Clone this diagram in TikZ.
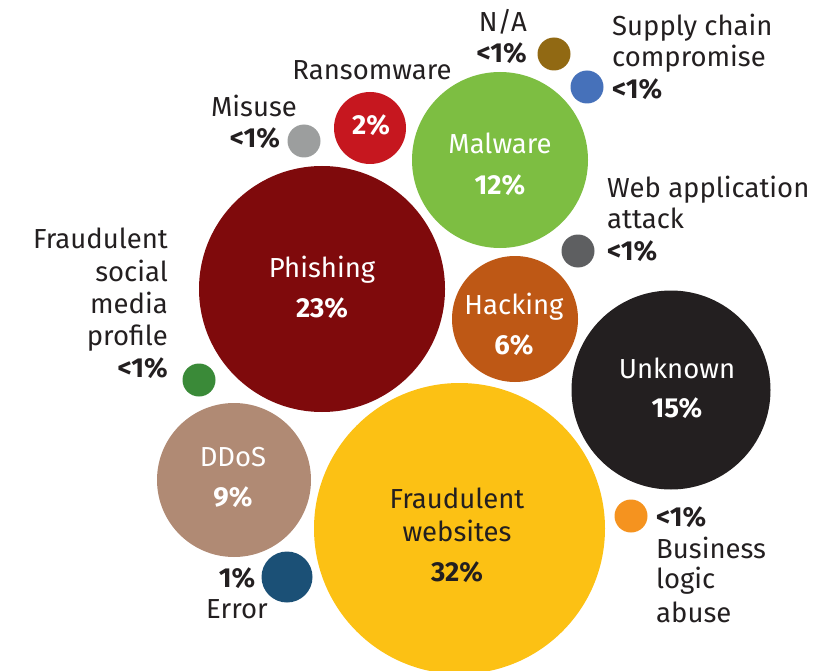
\documentclass[tikz,border=0pt]{standalone}
\usepackage{fontspec}
\setmainfont{Fira Sans}
\definecolor{ink}{HTML}{231F20}
\definecolor{cphish}{HTML}{7F0A0C}
\definecolor{cweb}{HTML}{FCC114}
\definecolor{cunknown}{HTML}{231F20}
\definecolor{cmalware}{HTML}{7DBE42}
\definecolor{chack}{HTML}{BE5815}
\definecolor{cddos}{HTML}{B08A74}
\definecolor{cransom}{HTML}{C6171F}
\definecolor{cmisuse}{HTML}{9C9E9E}
\definecolor{cna}{HTML}{916913}
\definecolor{csupply}{HTML}{4671BA}
\definecolor{cwebapp}{HTML}{5E5F61}
\definecolor{csocial}{HTML}{3A8A38}
\definecolor{cerror}{HTML}{1B5076}
\definecolor{clogic}{HTML}{F5931F}

\begin{document}
\begin{tikzpicture}[x=1pt,y=-1pt,
  bubble/.style={circle,inner sep=0pt,draw=none},
  txt/.style={font=\fontsize{27.5}{32}\selectfont,text=ink,inner sep=0pt},
  pct/.style={font=\fontsize{27.5}{32}\selectfont\bfseries,text=ink,inner sep=0pt}]
  \useasboundingbox (0,0) rectangle (824,671);

  % bubbles
  \node[bubble,fill=cphish,minimum size=246pt]   (phishing) at (322,289) {};
  \node[bubble,fill=cweb,minimum size=291pt]     (websites) at (459.5,528.5) {};
  \node[bubble,fill=cunknown,minimum size=199pt] (unknown)  at (671,390) {};
  \node[bubble,fill=cmalware,minimum size=176pt] (malware)  at (500,160) {};
  \node[bubble,fill=chack,minimum size=126pt]    (hacking)  at (515,319) {};
  \node[bubble,fill=cddos,minimum size=154pt]    (ddos)     at (234,480) {};
  \node[bubble,fill=cransom,minimum size=72pt]   (ransom)   at (370,128) {};
  \node[bubble,fill=cmisuse,minimum size=33pt]   (misuse)   at (304,141) {};
  \node[bubble,fill=cna,minimum size=33pt]       (na)       at (554,54) {};
  \node[bubble,fill=csupply,minimum size=33pt]   (supply)   at (587,87) {};
  \node[bubble,fill=cwebapp,minimum size=33pt]   (webapp)   at (578,251) {};
  \node[bubble,fill=csocial,minimum size=33pt]   (social)   at (199,380) {};
  \node[bubble,fill=cerror,minimum size=51pt]    (error)    at (287,577) {};
  \node[bubble,fill=clogic,minimum size=33pt]    (logic)    at (631,516) {};

  % texts inside
  \node[txt,text=white,anchor=base] (phishing-t) at (322,277) {Phishing};
  \node[pct,text=white,anchor=base] (phishing-p) at (322,317) {23\%};
  \node[txt,text=white,anchor=base] (malware-t) at (500,154) {Malware};
  \node[pct,text=white,anchor=base] (malware-p) at (500,194) {12\%};
  \node[pct,text=white,anchor=base] (ransom-p) at (371,135) {2\%};
  \node[txt,text=white,anchor=base] (hacking-t) at (514,314) {Hacking};
  \node[pct,text=white,anchor=base] (hacking-p) at (514,354) {6\%};
  \node[txt,text=white,anchor=base] (unknown-t) at (677,378) {Unknown};
  \node[pct,text=white,anchor=base] (unknown-p) at (677,417) {15\%};
  \node[txt,text=white,anchor=base] (ddos-t) at (233,466) {DDoS};
  \node[pct,text=white,anchor=base] (ddos-p) at (233,506) {9\%};
  \node[txt,anchor=base] (websites-t1) at (457,508) {Fraudulent};
  \node[txt,anchor=base] (websites-t2) at (457,541) {websites};
  \node[pct,anchor=base] (websites-p) at (457,581) {32\%};

  % texts outside
  \node[txt,anchor=base] (ransom-t) at (372,80) {Ransomware};
  \node[txt,anchor=base] (misuse-t) at (254,117) {Misuse};
  \node[pct,anchor=base] (misuse-p) at (255,148) {<1\%};
  \node[txt,anchor=base east] (na-t) at (527,32) {N/A};
  \node[pct,anchor=base east] (na-p) at (527,63) {<1\%};
  \node[txt,anchor=base west] (supply-t1) at (612,36) {Supply chain};
  \node[txt,anchor=base west] (supply-t2) at (612,67) {compromise};
  \node[pct,anchor=base west] (supply-p) at (612,99) {<1\%};
  \node[txt,anchor=base west] (webapp-t1) at (607,197) {Web application};
  \node[txt,anchor=base west] (webapp-t2) at (607,228) {attack};
  \node[pct,anchor=base west] (webapp-p) at (607,260) {<1\%};
  \node[txt,anchor=base east] (social-t1) at (168,248) {Fraudulent};
  \node[txt,anchor=base east] (social-t2) at (168,281) {social};
  \node[txt,anchor=base east] (social-t3) at (168,313) {media};
  \node[txt,anchor=base east] (social-t4) at (168,345) {profile};
  \node[pct,anchor=base east] (social-p) at (168,377) {<1\%};
  \node[pct,anchor=base] (error-p) at (237,587) {1\%};
  \node[txt,anchor=base] (error-t) at (237,618) {Error};
  \node[pct,anchor=base west] (logic-p) at (656,526) {<1\%};
  \node[txt,anchor=base west] (logic-t1) at (656,558) {Business};
  \node[txt,anchor=base west] (logic-t2) at (656,588) {logic};
  \node[txt,anchor=base west] (logic-t3) at (656,622) {abuse};
\end{tikzpicture}
\end{document}
